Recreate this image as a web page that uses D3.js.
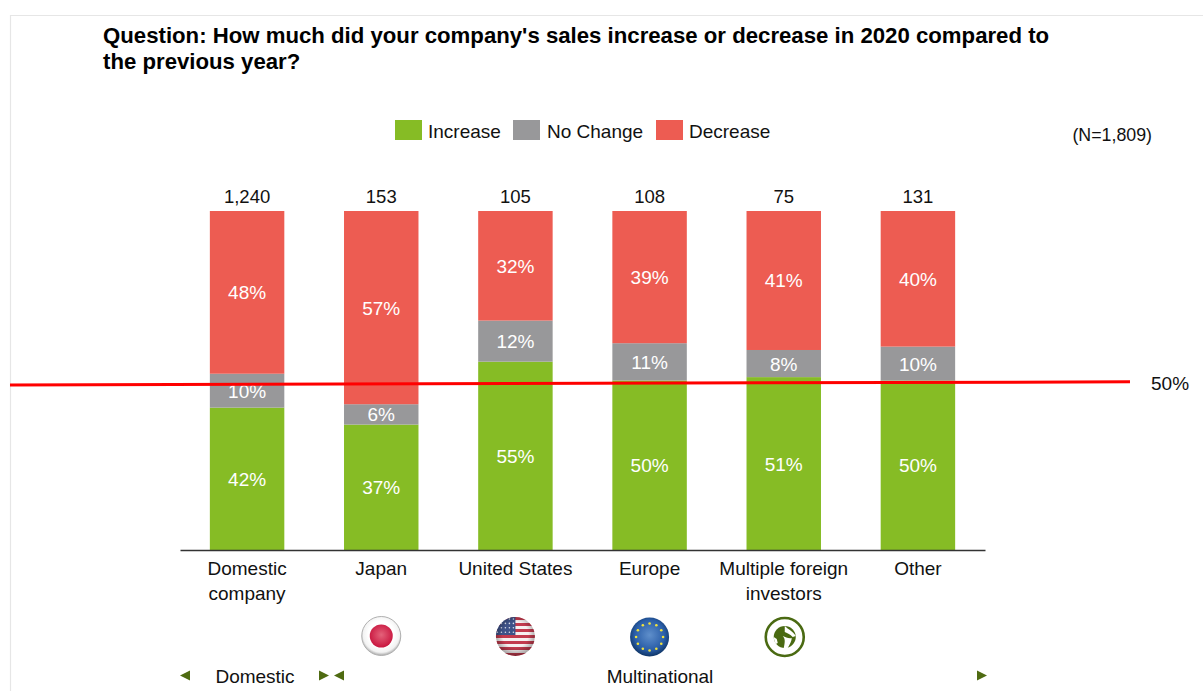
<!DOCTYPE html>
<html lang="en">
<head>
<meta charset="UTF-8">
<title>Sales change in 2020</title>
<style>
    html, body { margin: 0; background: #fff; overflow: hidden; }
    text { font-family: "Liberation Sans", Arial, sans-serif; fill: #111; }
</style>
</head>
<body>
<svg id="chart" width="1203" height="691"></svg>
<script src="https://d3js.org/d3.v7.min.js"></script>
<script>
const titleLines = [
    "Question: How much did your company's sales increase or decrease in 2020 compared to",
    "the previous year?"
];
const categories = ["Domestic company", "Japan", "United States", "Europe", "Multiple foreign investors", "Other"];
const categoryLines = [["Domestic", "company"], ["Japan"], ["United States"], ["Europe"], ["Multiple foreign", "investors"], ["Other"]];
const counts = ["1,240", "153", "105", "108", "75", "131"];
const seriesNames = ["Increase", "No Change", "Decrease"];
const seriesColors = ["#86bc25", "#98989a", "#ed5c52"];
const increase = [42, 37, 55, 50, 51, 50];
const noChange = [10, 6, 12, 11, 8, 10];
const decrease = [48, 57, 32, 39, 41, 40];
// the red line is slightly tilted in the original
const refLineX = [10, 1130];
const refLineY = [0.487, 0.496];

const svg = d3.select("#chart");

const x = d3.scaleBand().domain(categories).range([180, 985]).paddingInner(0.445).paddingOuter(0.2225);
const y = d3.scaleLinear().domain([0, 1]).range([550, 211]);

const rows = categories.map((c, i) => ({ cat: c, "Increase": increase[i], "No Change": noChange[i], "Decrease": decrease[i] }));
const stacked = d3.stack().keys(seriesNames).offset(d3.stackOffsetExpand)(rows);

// frame
svg.append("path").attr("d", "M10.5,691V15.5H1203").attr("fill", "none").attr("stroke", "#e6e6e6").attr("stroke-width", 1.2);

// title
svg.append("g").selectAll("text").data(titleLines).join("text")
    .attr("x", 103).attr("y", (d, i) => 43 + i * 26)
    .attr("font-size", 22.2).attr("font-weight", "bold").style("fill", "#000")
    .text(d => d);

// legend
const legendBox = [395, 513, 656];
const legendText = [428, 547, 689];
seriesNames.forEach((s, i) => {
    svg.append("rect").attr("x", legendBox[i]).attr("y", 120).attr("width", 27).attr("height", 20).attr("fill", seriesColors[i]);
    svg.append("text").attr("x", legendText[i]).attr("y", 138).attr("font-size", 19).text(s);
});
svg.append("text").attr("x", 1152).attr("y", 141).attr("text-anchor", "end").attr("font-size", 17.8).text("(N=1,809)");

// bars
const layer = svg.append("g").selectAll("g").data(stacked).join("g")
    .attr("fill", (d, i) => seriesColors[i]);
layer.selectAll("rect").data(d => d).join("rect")
    .attr("x", d => x(d.data.cat))
    .attr("width", x.bandwidth())
    .attr("y", d => y(d[1]))
    .attr("height", d => y(d[0]) - y(d[1]));

// percent labels
stacked.forEach(s => {
    svg.append("g").selectAll("text").data(s).join("text")
        .attr("x", d => x(d.data.cat) + x.bandwidth() / 2)
        .attr("y", d => (y(d[0]) + y(d[1])) / 2 + 7)
        .attr("text-anchor", "middle").attr("font-size", 19)
        .style("fill", "#fff")
        .text(d => d.data[s.key] + "%");
});

// counts above bars
svg.append("g").selectAll("text").data(categories).join("text")
    .attr("x", d => x(d) + x.bandwidth() / 2).attr("y", 203)
    .attr("text-anchor", "middle").attr("font-size", 18.5)
    .text((d, i) => counts[i]);

// axis
const axis = svg.append("g").attr("transform", "translate(0,550)").call(d3.axisBottom(x).tickSize(0).tickFormat(""));
axis.select(".domain").attr("stroke", "#333").attr("stroke-width", 1.4);

categories.forEach((c, i) => {
    svg.append("g").selectAll("text").data(categoryLines[i]).join("text")
        .attr("x", x(c) + x.bandwidth() / 2).attr("y", (d, j) => 575 + j * 25)
        .attr("text-anchor", "middle").attr("font-size", 19)
        .text(d => d);
});

// 50% reference line
svg.append("line")
    .attr("x1", refLineX[0]).attr("x2", refLineX[1])
    .attr("y1", y(refLineY[0])).attr("y2", y(refLineY[1]))
    .attr("stroke", "#ff0000").attr("stroke-width", 3);
svg.append("text").attr("x", 1151).attr("y", 390).attr("font-size", 19).text("50%");

// group labels and arrows
const arrowColor = "#4f6b12";
function arrow(px, dir) {
    svg.append("path")
        .attr("d", `M${px},675.5L${px + dir * 10},670.5V680.5Z`)
        .attr("fill", arrowColor);
}
arrow(180, 1); arrow(329, -1); arrow(334, 1); arrow(987, -1);
svg.append("text").attr("x", 255).attr("y", 683).attr("text-anchor", "middle").attr("font-size", 19).text("Domestic");
svg.append("text").attr("x", 660).attr("y", 683).attr("text-anchor", "middle").attr("font-size", 19).text("Multinational");

// flag icons
const defs = svg.append("defs");
function radial(id, stops) {
    const g = defs.append("radialGradient").attr("id", id).attr("cx", "50%").attr("cy", "45%").attr("r", "55%");
    stops.forEach(s => g.append("stop").attr("offset", s[0]).attr("stop-color", s[1]).attr("stop-opacity", s[2] === undefined ? 1 : s[2]));
}
radial("jpRing", [["0.6", "#ffffff"], ["0.85", "#f2f2f2"], ["1", "#a8a8a8"]]);
radial("jpDot", [["0", "#e4627a"], ["1", "#c9163f"]]);
radial("euBall", [["0", "#5f8fcb"], ["0.7", "#2a5ea8"], ["1", "#0f3566"]]);
radial("gloss", [["0.6", "#000", 0], ["1", "#000", 0.35]]);

const flagX = x(categories[1]) + x.bandwidth() / 2;
const usX = x(categories[2]) + x.bandwidth() / 2;
const euX = x(categories[3]) + x.bandwidth() / 2;
const globeX = x(categories[4]) + x.bandwidth() / 2 + 1;

// Japan
svg.append("circle").attr("cx", flagX).attr("cy", 636).attr("r", 19.5).attr("fill", "url(#jpRing)").attr("stroke", "#b0b0b0");
svg.append("circle").attr("cx", flagX).attr("cy", 636).attr("r", 11.5).attr("fill", "url(#jpDot)");

// USA
defs.append("clipPath").attr("id", "usClip").append("circle").attr("cx", usX).attr("cy", 636.5).attr("r", 19.5);
const us = svg.append("g").attr("clip-path", "url(#usClip)");
us.append("rect").attr("x", usX - 20).attr("y", 616).attr("width", 40).attr("height", 41).attr("fill", "#f6f0f0");
d3.range(7).forEach(i => {
    us.append("rect").attr("x", usX - 20).attr("y", 617 + i * 6).attr("width", 40).attr("height", 3).attr("fill", "#c23b4e");
});
us.append("rect").attr("x", usX - 20).attr("y", 616).attr("width", 20).attr("height", 19).attr("fill", "#3d5288");
d3.range(4).forEach(r => d3.range(5).forEach(c => {
    us.append("circle").attr("cx", usX - 18 + c * 4).attr("cy", 619 + r * 4.4).attr("r", 0.8).attr("fill", "#d9deea");
}));
us.append("circle").attr("cx", usX).attr("cy", 636.5).attr("r", 19.5).attr("fill", "url(#gloss)");

// EU
svg.append("circle").attr("cx", euX).attr("cy", 637).attr("r", 19.5).attr("fill", "url(#euBall)");
d3.range(12).forEach(i => {
    const a = i * Math.PI / 6;
    svg.append("circle").attr("cx", euX + 13.5 * Math.cos(a)).attr("cy", 637 + 13.5 * Math.sin(a)).attr("r", 1.3).attr("fill", "#f1e23c");
});

// globe
const globeGreen = "#4a6a12";
svg.append("circle").attr("cx", globeX).attr("cy", 637).attr("r", 19).attr("fill", "#fff").attr("stroke", globeGreen).attr("stroke-width", 2.6);
svg.append("circle").attr("cx", globeX).attr("cy", 637).attr("r", 11).attr("fill", globeGreen);
const gl = svg.append("g").attr("transform", `translate(${globeX},637)`).attr("fill", "#fff");
gl.append("path").attr("d", "M0,-11C3,-8 8,-6 11,-1L8,0C5,-3 2,-4 0,-5Z");
gl.append("path").attr("d", "M-2,-1C1,2 0,6 -1,11L3,11C5,7 7,4 7,1C4,2 1,0 -2,-1Z");
gl.append("path").attr("d", "M-11,0L-8,2L-7,6L-9,7C-10,5 -11,2 -11,0Z");
</script>
</body>
</html>
